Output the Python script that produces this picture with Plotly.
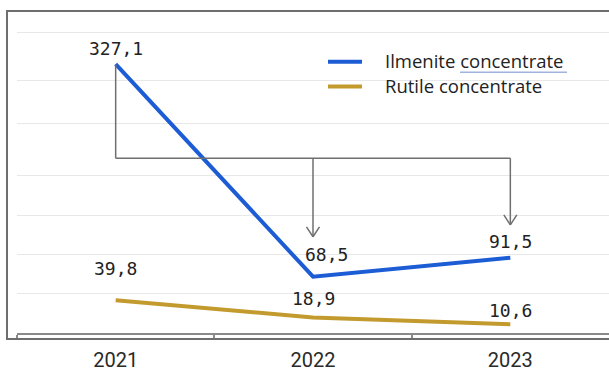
import plotly.graph_objects as go

# ---- data ----
YEARS = ["2021", "2022", "2023"]
ILMENITE = [327.1, 68.5, 91.5]
RUTILE = [39.8, 18.9, 10.6]
SERIES_NAMES = ["Ilmenite concentrate", "Rutile concentrate"]

# gridline values
GRID_VALUES = [48, 95, 143, 191, 255, 307, 366]

BLUE = "#1c5cd4"
GOLD = "#c39a2d"
ARROW = "#6f6f6f"
COLORS = [BLUE, GOLD]

W, H = 609, 372
ML, MR, MT, MB = 17, 0, 14, 37
PW, PH = W - ML - MR, H - MT - MB
YMAX = 388


def px_x(p):
    return (p - ML) / PW


def px_y(p):
    return (H - MB - p) / PH


xs = list(range(len(YEARS)))

fig = go.Figure()
for name, vals, col in zip(SERIES_NAMES, [ILMENITE, RUTILE], COLORS):
    fig.add_trace(go.Scatter(x=xs, y=vals, mode="lines", name=name,
                             line=dict(color=col, width=4), showlegend=False))


def fmt(v):
    return f"{v:.1f}".replace(".", ",")


label_font = dict(family="DejaVu Sans Mono", size=18, color="#222222")
ilm_shift = [(0, 16), (13, 22), (0, 16)]
rut_shift = [(0, 32), (0, 19), (0, 14)]
annotations = []
for i, v in enumerate(ILMENITE):
    annotations.append(dict(x=xs[i], y=v, text=fmt(v), showarrow=False, font=label_font,
                            xshift=ilm_shift[i][0], yshift=ilm_shift[i][1]))
for i, v in enumerate(RUTILE):
    annotations.append(dict(x=xs[i], y=v, text=fmt(v), showarrow=False, font=label_font,
                            xshift=rut_shift[i][0], yshift=rut_shift[i][1]))

shapes = []

# legend (drawn by hand to match spacing)
shapes.append(dict(type="rect", xref="paper", yref="paper", layer="between",
                   x0=px_x(319), x1=px_x(598), y0=px_y(104), y1=px_y(42),
                   fillcolor="white", line=dict(width=0)))
legend_rows = [62, 87]
for name, col, ry in zip(SERIES_NAMES, COLORS, legend_rows):
    shapes.append(dict(type="line", xref="paper", yref="paper",
                       x0=px_x(328), x1=px_x(362), y0=px_y(ry), y1=px_y(ry),
                       line=dict(color=col, width=4)))
    annotations.append(dict(xref="paper", yref="paper", x=px_x(383), y=px_y(ry - 1),
                            xanchor="left", yanchor="middle", text=name, showarrow=False,
                            font=dict(family="Open Sans", size=18.5, color="#222222")))
# spell-check underline seen in the source
shapes.append(dict(type="line", xref="paper", yref="paper",
                   x0=px_x(460), x1=px_x(567), y0=px_y(72.5), y1=px_y(72.5),
                   line=dict(color="#9fb3dc", width=1.5)))

# connector arrows from the 2021 Ilmenite value to 2022 and 2023
conn_y = 212.6
tips = [(1, 117.1), (2, 131.6)]
cw, ch = 0.033, 12.0
line_style = dict(color=ARROW, width=1.5)
shapes.append(dict(type="line", xref="x", yref="y", x0=0, x1=0, y0=ILMENITE[0], y1=conn_y, line=line_style))
shapes.append(dict(type="line", xref="x", yref="y", x0=0, x1=2, y0=conn_y, y1=conn_y, line=line_style))
for tx, ty in tips:
    shapes.append(dict(type="line", xref="x", yref="y", x0=tx, x1=tx, y0=conn_y, y1=ty, line=line_style))
    shapes.append(dict(type="line", xref="x", yref="y", x0=tx - cw, x1=tx, y0=ty + ch, y1=ty, line=line_style))
    shapes.append(dict(type="line", xref="x", yref="y", x0=tx + cw, x1=tx, y0=ty + ch, y1=ty, line=line_style))

# outer frame
shapes.append(dict(type="rect", xref="paper", yref="paper",
                   x0=px_x(7), x1=1.06, y0=px_y(341), y1=px_y(11),
                   line=dict(color="#6e6e6e", width=2), fillcolor="rgba(0,0,0,0)"))

fig.update_layout(
    width=W, height=H,
    margin=dict(l=ML, r=MR, t=MT, b=MB),
    paper_bgcolor="white", plot_bgcolor="white",
    showlegend=False,
    annotations=annotations,
    shapes=shapes,
)
fig.update_xaxes(
    range=[-0.5, 2.5], tickmode="array", tickvals=xs, ticktext=YEARS,
    ticks="", showgrid=False, zeroline=False,
    showline=True, linecolor="#8a8a8a", linewidth=1.5,
    tickfont=dict(family="Roboto", size=20, color="#2a2a2a"),
    ticklabelstandoff=8,
    minor=dict(tickmode="array", tickvals=[-0.5, 0.5, 1.5], ticks="outside",
               ticklen=5, tickcolor="#8a8a8a", tickwidth=1.5, showgrid=False),
)
fig.update_yaxes(
    range=[0, YMAX], tickmode="array", tickvals=GRID_VALUES,
    showticklabels=False, ticks="", showgrid=True, gridcolor="#e8e8e8", gridwidth=1,
    zeroline=False, showline=False,
)

fig.write_html("out.html")
